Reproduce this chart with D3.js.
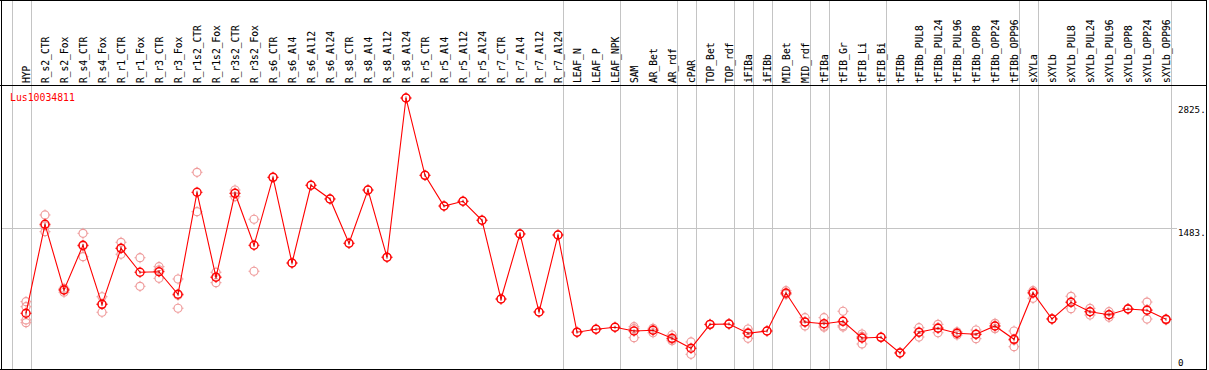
<!DOCTYPE html>
<html>
<head>
<meta charset="utf-8">
<script src="https://cdn.jsdelivr.net/npm/d3@7"></script>
<style>
  body { margin: 0; background: #fff; }
  svg { display: block; }
  text { font-family: "DejaVu Sans Mono", monospace; }
</style>
</head>
<body>
<svg width="1209" height="370"></svg>
<script>
const geneName = "Lus10034811";

const categories = ["HYP", "R_s2_CTR", "R_s2_Fox", "R_s4_CTR", "R_s4_Fox", "R_r1_CTR", "R_r1_Fox",
    "R_r3_CTR", "R_r3_Fox", "R_r1s2_CTR", "R_r1s2_Fox", "R_r3s2_CTR", "R_r3s2_Fox", "R_s6_CTR",
    "R_s6_Al4", "R_s6_Al12", "R_s6_Al24", "R_s8_CTR", "R_s8_Al4", "R_s8_Al12", "R_s8_Al24",
    "R_r5_CTR", "R_r5_Al4", "R_r5_Al12", "R_r5_Al24", "R_r7_CTR", "R_r7_Al4", "R_r7_Al12", "R_r7_Al24",
    "LEAF_N", "LEAF_P", "LEAF_NPK", "SAM", "AR_Bet", "AR_rdf", "cPAR", "TOP_Bet", "TOP_rdf",
    "iFIBa", "iFIBb", "MID_Bet", "MID_rdf", "tFIBa", "tFIB_Gr", "tFIB_Li", "tFIB_Bi", "tFIBb",
    "tFIBb_PUL8", "tFIBb_PUL24", "tFIBb_PUL96", "tFIBb_OPP8", "tFIBb_OPP24", "tFIBb_OPP96",
    "sXYLa", "sXYLb", "sXYLb_PUL8", "sXYLb_PUL24", "sXYLb_PUL96", "sXYLb_OPP8", "sXYLb_OPP24", "sXYLb_OPP96"];

const means = [553, 1527, 808, 1297, 651, 1264, 1002, 1008, 761, 1877, 947, 1866, 1297, 2041,
    1103, 1954, 1804, 1319, 1902, 1166, 2909, 2063, 1727, 1779, 1571, 709, 1421, 567, 1410,
    346, 378, 400, 359, 367, 279, 170, 432, 436, 334, 359, 775, 458, 439, 465, 282, 290, 118,
    345, 389, 334, 323, 414, 268, 775, 490, 673, 570, 537, 600, 586, 487];

const replicates = [
    [680, 625, 480, 450], [1629, 1446, 1510], [826, 783, 810], [1428, 1172, 1290], [734, 564, 655],
    [1330, 1199, 1264], [1161, 848], [1063, 1027, 935], [928, 608, 750], [2096, 1665],
    [1002, 888, 950], [1902, 1829, 1866], [1582, 1013], [2041], [1103], [1954], [1804], [1319],
    [1902], [1166], [2909], [2063], [1727], [1779], [1571], [709], [1421], [567], [1410],
    [346], [378], [400], [406, 286, 385], [389, 340, 372], [315, 253, 270], [239, 104],
    [432, 428], [436, 440], [381, 279, 342], [359], [800, 764, 761], [505, 414, 455],
    [505, 400, 412], [575, 417, 403], [326, 217, 300], [290], [118, 125],
    [395, 293, 347], [432, 340, 395], [351, 315, 336], [370, 275, 323], [443, 414, 385],
    [359, 187, 258], [783, 717, 800], [490, 495], [739, 603, 677], [607, 534, 570],
    [570, 509, 537], [600, 605], [676, 490, 592], [487, 480]];

// index of the last column of each group, a separator line follows it
const groupEnds = [-1, 0, 28, 31, 34, 35, 37, 38, 39, 41, 42, 45, 52, 53, 60];

const yTicks = [0, 1483, 2825];
const yMax = 2966;

const svg = d3.select("svg");
const H = 370;
const headerY = 85, bottomY = 369, rightX = 1206;

const x = d3.scalePoint().domain(categories).range([26, 1166]);
const step = x.step();
const y = d3.scaleLinear().domain([0, yMax]).range([363.8, 92.8]);

const grid = "#c4c4c4";

// group separators
svg.selectAll(".sep")
    .data(groupEnds)
    .enter()
    .append("line")
    .attr("x1", (i) => Math.round(26 + step * i + 4.7) + 0.5)
    .attr("x2", (i) => Math.round(26 + step * i + 4.7) + 0.5)
    .attr("y1", 0)
    .attr("y2", bottomY)
    .attr("stroke", grid)
    .attr("stroke-width", 1);

// mid gridline
svg.append("line")
    .attr("x1", 1).attr("x2", 1177)
    .attr("y1", Math.round(y(1483)) + 0.5).attr("y2", Math.round(y(1483)) + 0.5)
    .attr("stroke", grid);

// frame
svg.append("line").attr("x1", 0).attr("x2", rightX + 1).attr("y1", 0.5).attr("y2", 0.5).attr("stroke", "#000");
svg.append("line").attr("x1", 0).attr("x2", rightX + 1).attr("y1", headerY + 0.5).attr("y2", headerY + 0.5).attr("stroke", "#000");
svg.append("line").attr("x1", 0).attr("x2", rightX + 1).attr("y1", bottomY + 0.5).attr("y2", bottomY + 0.5).attr("stroke", "#000");
svg.append("line").attr("x1", 1.5).attr("x2", 1.5).attr("y1", 0).attr("y2", H).attr("stroke", "#000");
svg.append("line").attr("x1", rightX + 0.5).attr("x2", rightX + 0.5).attr("y1", 0).attr("y2", H).attr("stroke", "#000");

// column labels
svg.selectAll(".lab")
    .data(categories)
    .enter()
    .append("text")
    .attr("transform", (d) => `translate(${x(d) + 3.5},${83}) rotate(-90)`)
    .attr("font-size", "9.6px")
    .attr("fill", "#000")
    .attr("stroke", "#000")
    .attr("stroke-width", 0.1)
    .text((d) => d);

// y labels
svg.selectAll(".ylab")
    .data(yTicks)
    .enter()
    .append("text")
    .attr("x", 1178)
    .attr("y", (d) => d === 0 ? 366 : y(d) + 7.5)
    .attr("font-size", "9.2px")
    .attr("fill", "#000")
    .text((d) => d === 0 ? "0" : d + ".");

svg.append("text")
    .attr("x", 10).attr("y", 101)
    .attr("font-size", "9.8px")
    .attr("fill", "#ff0000")
    .text(geneName);

function marker(g, cx, cy, color, w) {
    const r = 4;
    g.append("circle").attr("cx", cx).attr("cy", cy).attr("r", r)
        .attr("fill", "none").attr("stroke", color).attr("stroke-width", w);
    const t = [[0, -1], [0, 1], [-1, 0], [1, 0]];
    t.forEach(([dx, dy]) => {
        g.append("line")
            .attr("x1", cx + dx * r).attr("y1", cy + dy * r)
            .attr("x2", cx + dx * (r + 1.5)).attr("y2", cy + dy * (r + 1.5))
            .attr("stroke", color).attr("stroke-width", 1);
    });
}

// replicates
const repLayer = svg.append("g");
categories.forEach((c, i) => {
    replicates[i].forEach((v) => marker(repLayer, x(c), y(v), "#ef9c9c", 1.2));
});

// mean line
const line = d3.line()
    .x((d, i) => x(categories[i]))
    .y((d) => y(d));

svg.append("path")
    .datum(means)
    .attr("d", line)
    .attr("fill", "none")
    .attr("stroke", "#ff0000")
    .attr("stroke-width", 1.1);

const meanLayer = svg.append("g");
categories.forEach((c, i) => {
    marker(meanLayer, x(c), y(means[i]), "#ff0000", 1.4);
    meanLayer.append("line")
        .attr("x1", x(c)).attr("x2", x(c))
        .attr("y1", y(means[i]) - 1.5).attr("y2", y(means[i]) + 1.5)
        .attr("stroke", "#a00000").attr("stroke-width", 0.8);
});
</script>
</body>
</html>
